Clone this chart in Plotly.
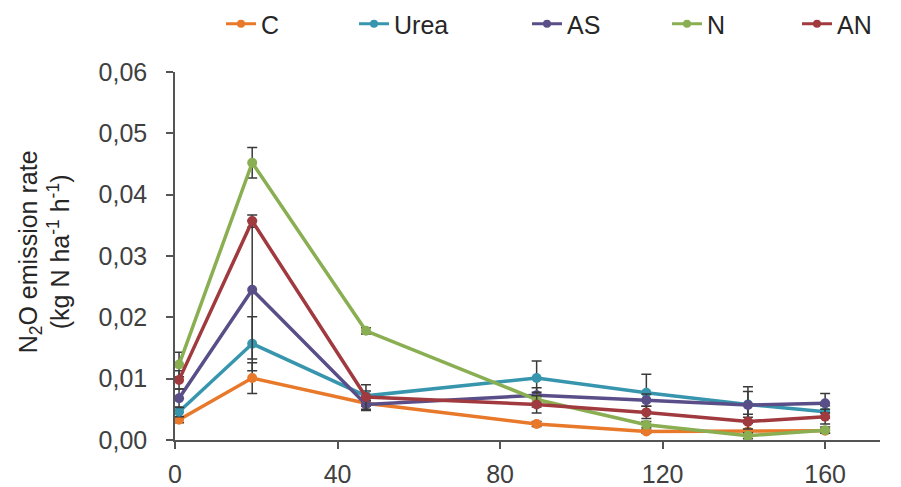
import plotly.graph_objects as go

days = [1, 19, 47, 89, 116, 141, 160]
series_names = ["C", "Urea", "AS", "N", "AN"]
C = [0.0033, 0.0101, 0.0060, 0.0026, 0.0014, 0.0014, 0.0015]
Urea = [0.0046, 0.0157, 0.0072, 0.0101, 0.0077, 0.0058, 0.0046]
AS = [0.0068, 0.0245, 0.0058, 0.0073, 0.0065, 0.0057, 0.0060]
N = [0.0123, 0.0452, 0.0178, 0.0066, 0.0025, 0.0007, 0.0016]
AN = [0.0098, 0.0357, 0.0070, 0.0058, 0.0045, 0.0030, 0.0038]

C_err = [0.0005, 0.0025, 0.0005, 0.0004, 0.0003, 0.0003, 0.0003]
Urea_err = [0.0008, 0.0044, 0.0008, 0.0028, 0.0030, 0.0021, 0.0010]
AS_err = [0.0015, 0.0113, 0.0010, 0.0012, 0.0010, 0.0030, 0.0016]
N_err = [0.0020, 0.0025, 0.0005, 0.0012, 0.0005, 0.0005, 0.0005]
AN_err = [0.0015, 0.0010, 0.0020, 0.0014, 0.0010, 0.0012, 0.0012]

x_ticks = [0, 40, 80, 120, 160]
y_ticks = [0, 0.01, 0.02, 0.03, 0.04, 0.05, 0.06]

values = [C, Urea, AS, N, AN]
errors = [C_err, Urea_err, AS_err, N_err, AN_err]
colors = ["#E8782A", "#3796AE", "#5A4E88", "#8AAE52", "#A03A3F"]
legend_text_start = [262, 395, 568, 708, 838]

FONT = "Liberation Sans, Arial, sans-serif"
OFF = 8  # page body margin
W, H = 901 - OFF, 487 - OFF
L, T = 175 - OFF, 72 - OFF
R = W - (880 - OFF)
B = H - (440 - OFF)

fig = go.Figure()
for name, v, e, c in zip(series_names, values, errors, colors):
    fig.add_trace(go.Scatter(
        x=days, y=v, mode="lines+markers", name=name, showlegend=False,
        line=dict(color=c, width=3.5),
        marker=dict(color=c, size=10),
        error_y=dict(type="data", array=e, visible=True, color="#3a3a3a",
                     thickness=1.5, width=5),
    ))

for i, (name, c) in enumerate(zip(series_names, colors)):
    lg = "legend" if i == 0 else f"legend{i+1}"
    fig.add_trace(go.Scatter(
        x=[None], y=[None], mode="lines+markers", name=name, legend=lg,
        line=dict(color=c, width=3), marker=dict(color=c, size=8),
    ))

legends = {}
for i, xs in enumerate(legend_text_start):
    key = "legend" if i == 0 else f"legend{i+1}"
    legends[key] = dict(
        x=(xs - OFF - 41) / W, xref="container", xanchor="left",
        y=1 - (24 - OFF) / H, yref="container", yanchor="middle",
        orientation="h", bgcolor="rgba(0,0,0,0)", borderwidth=0,
        font=dict(family=FONT, size=25, color="#262626"),
    )

fig.update_layout(
    width=W, height=H,
    margin=dict(l=L, r=R, t=T, b=B, autoexpand=False),
    paper_bgcolor="white", plot_bgcolor="white",
    separators=", ",
    font=dict(family=FONT, size=25, color="#404040"),
    xaxis=dict(
        range=[0, 173.5], tickvals=x_ticks, ticks="outside", ticklen=7,
        tickwidth=1.5, tickcolor="#555555", showline=True, linecolor="#555555",
        linewidth=1.5, showgrid=False, zeroline=False, automargin=False,
        tickfont=dict(family=FONT, size=25, color="#404040"),
        ticklabelstandoff=4,
    ),
    yaxis=dict(
        range=[0, 0.06], tickvals=y_ticks, tickformat=".2f", ticks="outside",
        ticklen=7, tickwidth=1.5, tickcolor="#555555", showline=True,
        linecolor="#555555", linewidth=1.5, showgrid=False, zeroline=False,
        automargin=False,
        tickfont=dict(family=FONT, size=25, color="#404040"),
        ticklabelstandoff=14,
    ),
    annotations=[dict(
        text="N<sub>2</sub>O emission rate<br>(kg N ha<sup>-1</sup> h<sup>-1</sup>)",
        xref="paper", yref="paper", x=(44 - OFF - L) / (W - L - R), y=0.51,
        xanchor="center", yanchor="middle", textangle=-90, showarrow=False,
        font=dict(family=FONT, size=25, color="#262626"),
    )],
    **legends,
)

fig.write_html("out.html")
